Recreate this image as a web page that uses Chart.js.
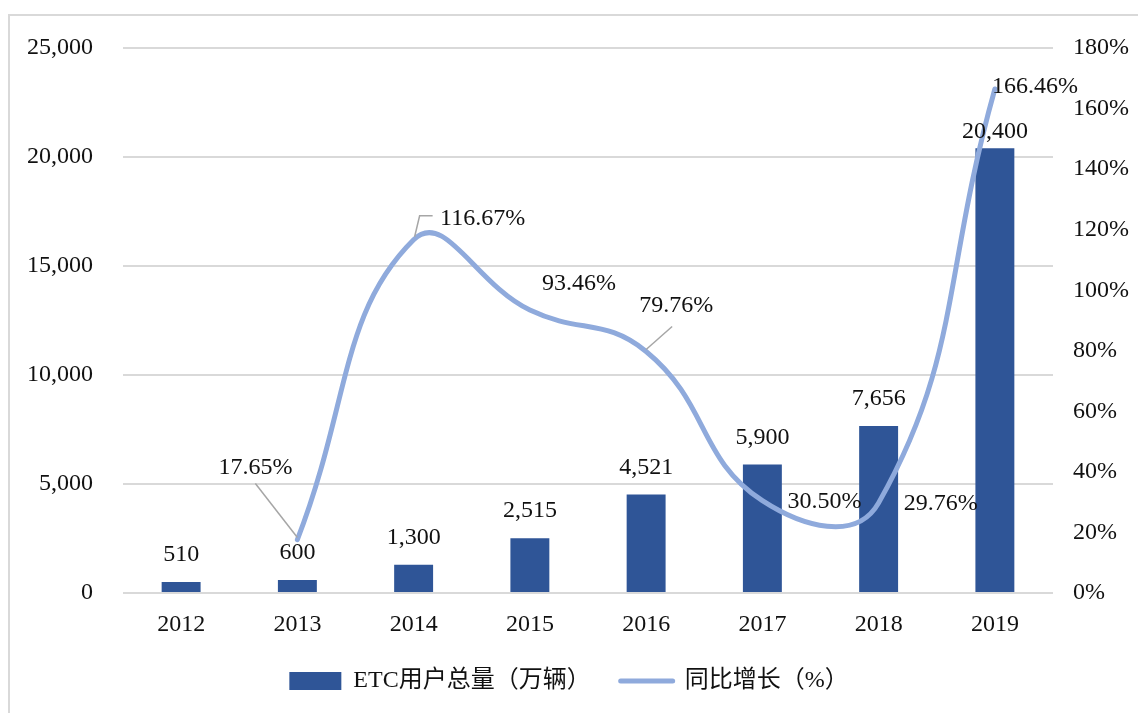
<!DOCTYPE html>
<html>
<head>
<meta charset="utf-8">
<script src="https://cdn.jsdelivr.net/npm/chart.js@4.4.1/dist/chart.umd.min.js"></script>
<style>
  html, body { margin: 0; padding: 0; background: #fff; }
  body { width: 1138px; height: 713px; position: relative; overflow: hidden; }
  #frame { position: absolute; left: 8px; top: 14px; width: 1200px; height: 800px;
           border-left: 2px solid #d9d9d9; border-top: 2px solid #d9d9d9; box-sizing: border-box; }
  #wrap { position: absolute; left: 0; top: 0; width: 1138px; height: 713px; }
</style>
</head>
<body>
<div id="frame"></div>
<div id="wrap"><canvas id="c" width="1138" height="713"></canvas></div>
<script>
// ---- data ----
const years = ['2012', '2013', '2014', '2015', '2016', '2017', '2018', '2019'];
const etcUsers = [510, 600, 1300, 2515, 4521, 5900, 7656, 20400];
const growthPct = [null, 17.65, 116.67, 93.46, 79.76, 30.50, 29.76, 166.46];
const leftTicksMax = 25000;
const rightTicksMax = 180;
const seriesNames = ['ETC用户总量（万辆）', '同比增长（%）'];

// placement of labels (styling only)
const barLabelDy = [-27, -27, -27, -27, -27, -27, -27, -17];
const growthLabelPlacement = [
  null,
  { dx: -42, dy: -72, leader: [[0, -2], [-42, -56]] },
  { dx: 69, dy: -21, leader: [[1, -3], [6, -24], [19, -24]] },
  { dx: 49, dy: -26, leader: null },
  { dx: 30, dy: -46, leader: [[0, -2], [26, -25]] },
  { dx: 62, dy: 1, leader: null },
  { dx: 62, dy: 1, leader: null },
  { dx: 40, dy: -2, leader: null }
];

const FONT = "'Liberation Serif', 'Times New Roman', 'Noto Sans CJK SC', serif";
const FS = 24;
const BAR_COLOR = '#2F5597';
const LINE_COLOR = '#8FAADC';
const GRID = '#d9d9d9';
const TEXT = '#111';

const labelPlugin = {
  id: 'valueLabels',
  afterDatasetsDraw(chart) {
    const ctx = chart.ctx;
    ctx.save();
    ctx.font = FS + 'px ' + FONT;
    ctx.fillStyle = TEXT;
    ctx.textAlign = 'center';
    ctx.textBaseline = 'middle';
    const barMeta = chart.getDatasetMeta(0);
    barMeta.data.forEach((el, i) => {
      ctx.fillText(etcUsers[i].toLocaleString('en-US'), el.x, el.y + barLabelDy[i]);
    });
    const lineMeta = chart.getDatasetMeta(1);
    lineMeta.data.forEach((el, i) => {
      const v = growthPct[i];
      const p = growthLabelPlacement[i];
      if (v === null || !p) return;
      if (p.leader) {
        ctx.strokeStyle = '#a6a6a6';
        ctx.lineWidth = 1.5;
        ctx.beginPath();
        p.leader.forEach((pt, k) => {
          if (k === 0) ctx.moveTo(el.x + pt[0], el.y + pt[1]);
          else ctx.lineTo(el.x + pt[0], el.y + pt[1]);
        });
        ctx.stroke();
      }
      ctx.fillStyle = TEXT;
      ctx.fillText(v.toFixed(2) + '%', el.x + p.dx, el.y + p.dy);
    });
    ctx.restore();
  }
};

new Chart(document.getElementById('c'), {
  data: {
    labels: years,
    datasets: [
      {
        type: 'bar',
        label: seriesNames[0],
        data: etcUsers,
        backgroundColor: BAR_COLOR,
        yAxisID: 'y',
        categoryPercentage: 1,
        barPercentage: 0.335,
        order: 2
      },
      {
        type: 'line',
        label: seriesNames[1],
        data: growthPct,
        borderColor: LINE_COLOR,
        backgroundColor: LINE_COLOR,
        borderWidth: 5,
        borderCapStyle: 'round',
        pointRadius: 0,
        tension: 0.45,
        yAxisID: 'y1',
        order: 1
      }
    ]
  },
  options: {
    responsive: false,
    animation: false,
    layout: { padding: { top: 48, bottom: 10, left: 0, right: 0 } },
    scales: {
      x: {
        grid: { display: false, drawTicks: false },
        border: { display: false },
        ticks: { font: { family: FONT, size: FS }, color: TEXT, padding: 17 },
        afterFit(s) { s.height = 46; }
      },
      y: {
        position: 'left',
        min: 0, max: leftTicksMax,
        ticks: { stepSize: 5000, font: { family: FONT, size: FS }, color: TEXT, padding: 30,
                 callback: v => v.toLocaleString('en-US') },
        grid: { color: GRID, lineWidth: 2, drawTicks: false },
        border: { display: false },
        afterFit(s) { s.width = 123; }
      },
      y1: {
        position: 'right',
        min: 0, max: rightTicksMax,
        ticks: { stepSize: 20, font: { family: FONT, size: FS }, color: TEXT, padding: 20,
                 callback: v => v + '%' },
        grid: { display: false, drawTicks: false },
        border: { display: false },
        afterFit(s) { s.width = 85; }
      }
    },
    plugins: {
      tooltip: { enabled: false },
      legend: {
        position: 'bottom',
        labels: {
          font: { family: FONT, size: FS },
          color: TEXT,
          usePointStyle: true,
          pointStyleWidth: 52,
          boxHeight: 18,
          padding: 30,
          generateLabels(chart) {
            return chart.data.datasets.map((ds, i) => ({
              text: ds.label,
              fillStyle: i === 0 ? BAR_COLOR : LINE_COLOR,
              strokeStyle: i === 0 ? BAR_COLOR : LINE_COLOR,
              lineWidth: i === 0 ? 0 : 5,
              lineCap: 'round',
              pointStyle: i === 0 ? 'rect' : 'line',
              fontColor: TEXT,
              datasetIndex: i,
              hidden: false
            }));
          }
        }
      }
    }
  },
  plugins: [labelPlugin]
});
</script>
</body>
</html>
